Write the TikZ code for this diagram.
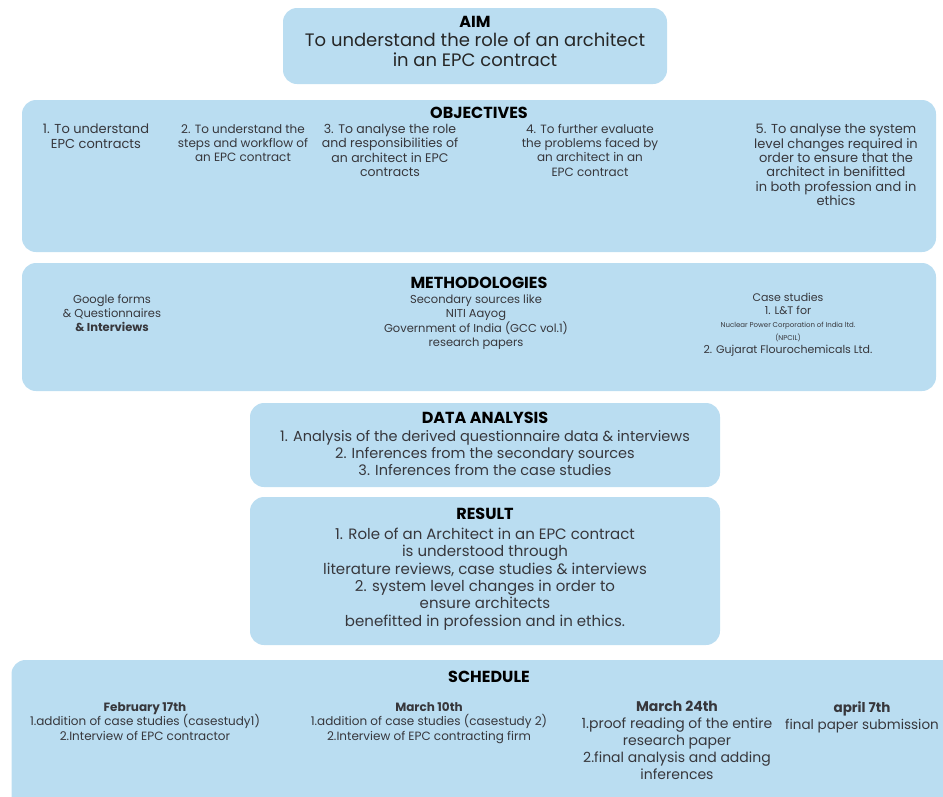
\documentclass[tikz,border=0pt]{standalone}
\usepackage{fontspec}
\setmainfont{Poppins}
\usetikzlibrary{positioning}
\definecolor{panelblue}{RGB}{186,221,241}
\definecolor{inkgray}{RGB}{55,55,60}

\begin{document}
\begin{tikzpicture}[x=1pt, y=-1pt,
    panel/.style={fill=panelblue, rounded corners=14pt, inner sep=0pt},
    head/.style={font=\fontsize{16}{18}\selectfont\bfseries, text=black, inner sep=0pt},
    body/.style={align=center, text=inkgray, inner sep=0pt, anchor=north}]
  \clip (0,0) rectangle (943,796);
  % panels
  \node[panel, minimum width=384, minimum height=76] (aim) at (475,46) {};
  \node[panel, minimum width=914, minimum height=152] (obj) at (479,176) {};
  \node[panel, minimum width=914, minimum height=128] (meth) at (479,327) {};
  \node[panel, minimum width=470, minimum height=84] (data) at (485,445) {};
  \node[panel, minimum width=470, minimum height=148] (res) at (485,571) {};
  \node[panel, minimum width=955, minimum height=160] (sched) at (489,740) {};

  % aim
  \node[head, below=8pt of aim.north] (aimhead) {AIM};
  \node[body, font=\fontsize{18}{20}\selectfont, text=black!85] (aimtext) at (475,33)
    {To understand the role of an architect\\in an EPC contract};

  % objectives
  \node[head, below=7pt of obj.north] (objhead) {OBJECTIVES};
  \node[body, font=\fontsize{13}{14.3}\selectfont] (obja) at (96,124) {1. To understand\\EPC contracts};
  \node[body, font=\fontsize{12}{14.3}\selectfont] (objb) at (243,124) {2. To understand the\\steps and workflow of\\an EPC contract};
  \node[body, font=\fontsize{12.5}{14.3}\selectfont] (objc) at (390,124) {3. To analyse the role\\and responsibilities of\\an architect in EPC\\contracts};
  \node[body, font=\fontsize{12}{14.3}\selectfont] (objd) at (590,124) {4. To further evaluate\\the problems faced by\\an architect in an\\EPC contract};
  \node[body, font=\fontsize{13}{14.3}\selectfont] (obje) at (836,124) {5. To analyse the system\\level changes required in\\order to ensure that the\\architect in benifitted\\in both profession and in\\ethics};

  % methodologies
  \node[head, below=14pt of meth.north] (methhead) {METHODOLOGIES};
  \node[body, font=\fontsize{11.5}{13.8}\selectfont] (metha) at (112,295) {Google forms\\\& Questionnaires\\\textbf{\& Interviews}};
  \node[body, font=\fontsize{11.5}{13.8}\selectfont] (methb) at (476,295) {Secondary sources like\\NITI Aayog\\Government of India (GCC vol.1)\\research papers};
  \node[body, font=\fontsize{11}{13}\selectfont] (methc) at (788,293) {Case studies\\1. L\&T for\\{\fontsize{7}{9}\selectfont Nuclear Power Corporation of India ltd.}\\{\fontsize{7}{9}\selectfont (NPCIL)}\\2. Gujarat Flourochemicals Ltd.};

  % data analysis
  \node[head, below=9pt of data.north] (datahead) {DATA ANALYSIS};
  \node[body, font=\fontsize{14.5}{17}\selectfont] (datatext) at (485,430)
    {1. Analysis of the derived questionnaire data \& interviews\\2. Inferences from the secondary sources\\3. Inferences from the case studies};

  % result
  \node[head, below=11pt of res.north] (reshead) {RESULT};
  \node[body, font=\fontsize{15}{17.3}\selectfont] (restext) at (485,528)
    {1. Role of an Architect in an EPC contract\\is understood through\\literature reviews, case studies \& interviews\\2. system level changes in order to\\ensure architects\\benefitted in profession and in ethics.};

  % schedule
  \node[head, below=11pt of sched.north] (schedhead) {SCHEDULE};
  \node[body, font=\fontsize{12}{14.5}\selectfont] (scheda) at (145,702)
    {\textbf{February 17th}\\1.addition of case studies (casestudy1)\\2.Interview of EPC contractor};
  \node[body, font=\fontsize{12}{14.5}\selectfont] (schedb) at (429,702)
    {\textbf{March 10th}\\1.addition of case studies (casestudy 2)\\2.Interview of EPC contracting firm};
  \node[body, font=\fontsize{14}{17}\selectfont] (schedc) at (677,701)
    {\textbf{March 24th}\\1.proof reading of the entire\\research paper\\2.final analysis and adding\\inferences};
  \node[body, font=\fontsize{13.5}{17}\selectfont] (schedd) at (862,701)
    {\textbf{april 7th}\\final paper submission};
\end{tikzpicture}
\end{document}
